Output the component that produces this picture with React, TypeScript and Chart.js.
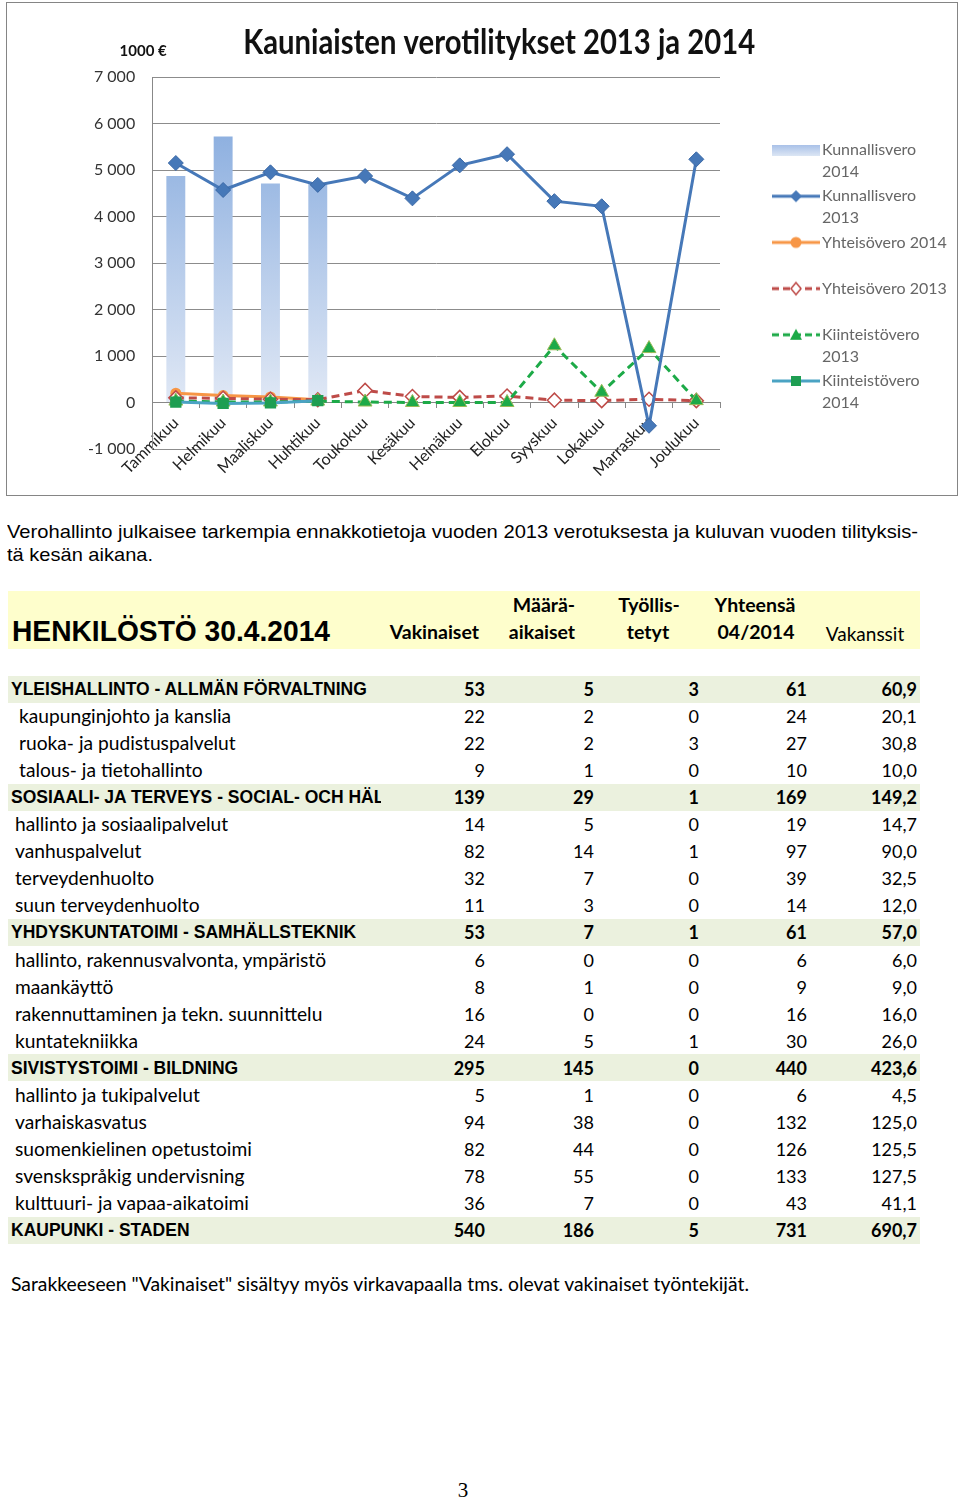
import React, { useEffect, useLayoutEffect, useRef } from 'react';
import { Chart, registerables } from 'chart.js';

Chart.register(...registerables);

// ---------------- Chart data ----------------
const months = ['Tammikuu', 'Helmikuu', 'Maaliskuu', 'Huhtikuu', 'Toukokuu', 'Kesäkuu', 'Heinäkuu', 'Elokuu', 'Syyskuu', 'Lokakuu', 'Marraskuu', 'Joulukuu'];
const kunnallisvero2014 = [4870, 5720, 4710, 4710, null, null, null, null, null, null, null, null];
const kunnallisvero2013 = [5150, 4570, 4950, 4680, 4870, 4390, 5100, 5340, 4330, 4220, -500, 5230];
const yhteisovero2014 = [200, 150, 120, 60, null, null, null, null, null, null, null, null];
const yhteisovero2013 = [100, 90, 70, 60, 260, 130, 110, 140, 50, 40, 70, 40];
const kiinteistovero2013 = [30, 10, 10, 30, 10, 0, 0, 0, 1220, 220, 1160, 40];
const kiinteistovero2014 = [10, -20, -10, 40, null, null, null, null, null, null, null, null];
const yMin = -1000;
const yMax = 7000;
const yStep = 1000;
const legendTexts = [
  ['Kunnallisvero', '2014'],
  ['Kunnallisvero', '2013'],
  ['Yhteisövero 2014', ''],
  ['Yhteisövero 2013', ''],
  ['Kiinteistövero', '2013'],
  ['Kiinteistövero', '2014'],
];

// ---------------- Table data ----------------
const rowNames = [
  'YLEISHALLINTO - ALLMÄN FÖRVALTNING',
  'kaupunginjohto ja kanslia',
  'ruoka- ja pudistuspalvelut',
  'talous- ja tietohallinto',
  'SOSIAALI- JA TERVEYS - SOCIAL- OCH HÄL',
  'hallinto ja sosiaalipalvelut',
  'vanhuspalvelut',
  'terveydenhuolto',
  'suun terveydenhuolto',
  'YHDYSKUNTATOIMI - SAMHÄLLSTEKNIK',
  'hallinto, rakennusvalvonta, ympäristö',
  'maankäyttö',
  'rakennuttaminen ja tekn. suunnittelu',
  'kuntatekniikka',
  'SIVISTYSTOIMI - BILDNING',
  'hallinto ja tukipalvelut',
  'varhaiskasvatus',
  'suomenkielinen opetustoimi',
  'svenskspråkig undervisning',
  'kulttuuri- ja vapaa-aikatoimi',
  'KAUPUNKI - STADEN',
];
const categoryRows = [0, 4, 9, 14, 20];
const vakinaiset = [53, 22, 22, 9, 139, 14, 82, 32, 11, 53, 6, 8, 16, 24, 295, 5, 94, 82, 78, 36, 540];
const maaraaikaiset = [5, 2, 2, 1, 29, 5, 14, 7, 3, 7, 0, 1, 0, 5, 145, 1, 38, 44, 55, 7, 186];
const tyollistetyt = [3, 0, 3, 0, 1, 0, 1, 0, 0, 1, 0, 0, 0, 1, 0, 0, 0, 0, 0, 0, 5];
const yhteensa = [61, 24, 27, 10, 169, 19, 97, 39, 14, 61, 6, 9, 16, 30, 440, 6, 132, 126, 133, 43, 731];
const vakanssit = ['60,9', '20,1', '30,8', '10,0', '149,2', '14,7', '90,0', '32,5', '12,0', '57,0', '6,0', '9,0', '16,0', '26,0', '423,6', '4,5', '125,0', '125,5', '127,5', '41,1', '690,7'];

const C_KUN13 = '#4678B8';
const C_YHT14 = '#F79646';
const C_YHT13 = '#BE4B48';
const C_KII13 = '#1DAA48';
const C_KII14 = '#4BA3C3';
const C_SQUARE = '#1E9E52';

const LEGEND_FONT = { family: 'Lato', size: 16, lineHeight: 1.35 };
const LEGEND_PAD = 3;
const LEGEND_BOX = 91;

function fmt(v: number) {
  const s = Math.abs(v).toString().replace(/\B(?=(\d{3})+(?!\d))/g, ' ');
  return (v < 0 ? '-' : '') + s;
}

function makeIcon(kind: string): HTMLCanvasElement {
  const W = 103, H = 22;
  const c = document.createElement('canvas');
  c.width = W; c.height = H;
  const g = c.getContext('2d')!;
  const x0 = 55, x1 = 103, cy = 11, cx = (x0 + x1) / 2;
  const line = (color: string, dash: number[]) => {
    g.save();
    g.strokeStyle = color; g.lineWidth = 3; g.setLineDash(dash);
    g.beginPath(); g.moveTo(x0, cy); g.lineTo(x1, cy); g.stroke();
    g.restore();
  };
  if (kind === 'bar') {
    const gr = g.createLinearGradient(0, cy - 5, 0, cy + 6);
    gr.addColorStop(0, '#A9C1E8'); gr.addColorStop(1, '#DCE6F4');
    g.fillStyle = gr; g.fillRect(x0, cy - 5, x1 - x0, 11);
  } else if (kind === 'kun13') {
    line(C_KUN13, []);
    g.fillStyle = C_KUN13; g.beginPath();
    g.moveTo(cx, cy - 6); g.lineTo(cx + 6, cy); g.lineTo(cx, cy + 6); g.lineTo(cx - 6, cy); g.closePath(); g.fill();
  } else if (kind === 'yht14') {
    line(C_YHT14, []);
    g.fillStyle = C_YHT14; g.beginPath(); g.arc(cx, cy, 5.5, 0, Math.PI * 2); g.fill();
  } else if (kind === 'yht13') {
    line(C_YHT13, [7, 4]);
    g.fillStyle = '#fff'; g.strokeStyle = C_YHT13; g.lineWidth = 1.5; g.beginPath();
    g.moveTo(cx, cy - 6); g.lineTo(cx + 5, cy); g.lineTo(cx, cy + 6); g.lineTo(cx - 5, cy); g.closePath(); g.fill(); g.stroke();
  } else if (kind === 'kii13') {
    line(C_KII13, [7, 4]);
    g.fillStyle = C_KII13; g.beginPath();
    g.moveTo(cx, cy - 6); g.lineTo(cx + 6, cy + 5); g.lineTo(cx - 6, cy + 5); g.closePath(); g.fill();
  } else if (kind === 'kii14') {
    line(C_KII14, []);
    g.fillStyle = C_SQUARE; g.fillRect(cx - 5, cy - 5, 10, 10);
  }
  return c;
}

const headerPlugin = {
  id: 'headerTexts',
  afterDraw(chart: any) {
    const ctx = chart.ctx as CanvasRenderingContext2D;
    const area = chart.chartArea;
    ctx.save();
    ctx.fillStyle = '#111';
    ctx.textBaseline = 'alphabetic';
    ctx.textAlign = 'center';
    ctx.font = 'bold 34px Lato, sans-serif';
    const title = 'Kauniaisten verotilitykset 2013 ja 2014';
    const w = ctx.measureText(title).width;
    const sx = 512 / w;
    ctx.translate(area.left + 347, 51);
    ctx.scale(sx, 1);
    ctx.fillText(title, 0, 0);
    ctx.restore();
    ctx.save();
    ctx.fillStyle = '#111';
    ctx.textAlign = 'center';
    ctx.textBaseline = 'alphabetic';
    ctx.font = 'bold 15px Lato, sans-serif';
    ctx.fillText('1000 €', area.left - 9, 53);
    ctx.restore();
  },
};

function ChartBlock() {
  const ref = useRef<HTMLCanvasElement>(null);
  useEffect(() => {
    const canvas = ref.current!;
    const icons = ['bar', 'kun13', 'yht14', 'yht13', 'kii13', 'kii14'].map(makeIcon);
    // measure the widest legend text so the plot's right edge lands where the reference has it
    const m = document.createElement('canvas').getContext('2d')!;
    m.font = `normal ${LEGEND_FONT.size}px ${LEGEND_FONT.family}`;
    let tw = 0;
    legendTexts.forEach((t) => t.forEach((s) => { tw = Math.max(tw, m.measureText(s).width); }));
    const legendWidth = LEGEND_PAD + LEGEND_BOX + LEGEND_FONT.size / 2 + tw + 10;
    const plotRight = 713;
    const padRight = 950 - plotRight - legendWidth;

    const barFill = (ctx: any) => {
      const chart = ctx.chart;
      const y = chart.scales && chart.scales.y;
      if (!chart.chartArea || !y) return '#B7CCEB';
      const g = chart.ctx.createLinearGradient(0, y.getPixelForValue(6000), 0, y.getPixelForValue(0));
      g.addColorStop(0, '#8BAEDF');
      g.addColorStop(1, '#E0E8F5');
      return g;
    };
    const chart = new Chart(canvas, {
      type: 'bar',
      data: {
        labels: months,
        datasets: [
          { type: 'bar', label: 'Kunnallisvero 2014', data: kunnallisvero2014, backgroundColor: barFill, borderWidth: 0, barPercentage: 0.4, categoryPercentage: 1, order: 10 } as any,
          { type: 'line', label: 'Kunnallisvero 2013', data: kunnallisvero2013, borderColor: C_KUN13, backgroundColor: C_KUN13, borderWidth: 3, pointStyle: 'rectRot', pointRadius: 7.5, pointBorderWidth: 1, pointBorderColor: '#3A68A6', tension: 0, order: 1 },
          { type: 'line', label: 'Yhteisövero 2014', data: yhteisovero2014, borderColor: C_YHT14, backgroundColor: C_YHT14, borderWidth: 3, pointStyle: 'circle', pointRadius: 5.5, pointBorderWidth: 0, tension: 0, order: 5 },
          { type: 'line', label: 'Yhteisövero 2013', data: yhteisovero2013, borderColor: C_YHT13, backgroundColor: '#ffffff', borderWidth: 3, borderDash: [8, 5], pointStyle: 'rectRot', pointRadius: 7, pointBorderWidth: 1.5, pointBorderColor: C_YHT13, pointBackgroundColor: '#ffffff', tension: 0, order: 4 },
          { type: 'line', label: 'Kiinteistövero 2013', data: kiinteistovero2013, borderColor: C_KII13, backgroundColor: C_KII13, borderWidth: 3, borderDash: [8, 5], pointStyle: 'triangle', pointRadius: 8, pointBorderWidth: 1, pointBorderColor: '#9BBB59', tension: 0, order: 3 },
          { type: 'line', label: 'Kiinteistövero 2014', data: kiinteistovero2014, borderColor: C_KII14, backgroundColor: C_SQUARE, borderWidth: 3, pointStyle: 'rect', pointRadius: 8, pointBorderWidth: 0, tension: 0, order: 2 },
        ],
      },
      options: {
        responsive: false,
        animation: false,
        devicePixelRatio: 1,
        layout: { padding: { left: 64, right: padRight, top: 74, bottom: 46 } },
        plugins: {
          title: { display: false },
          tooltip: { enabled: false },
          legend: {
            position: 'right',
            align: 'start',
            maxWidth: 400,
            title: { display: true, text: ' ', font: { size: 10, lineHeight: 1 }, padding: { top: 52, bottom: 0 } },
            labels: {
              usePointStyle: true,
              pointStyleWidth: LEGEND_BOX,
              padding: LEGEND_PAD,
              color: '#222',
              font: LEGEND_FONT,
              generateLabels: () =>
                legendTexts.map((t, i) => ({
                  text: t as any,
                  pointStyle: icons[i] as any,
                  fillStyle: 'rgba(0,0,0,0)',
                  strokeStyle: 'rgba(0,0,0,0)',
                  lineWidth: 0,
                  hidden: false,
                  datasetIndex: i,
                })),
            },
          },
        },
        scales: {
          x: {
            position: { y: 0 } as any,
            grid: { drawOnChartArea: false, drawTicks: true, tickLength: 5, color: '#888', offset: true },
            border: { display: true, color: '#888', width: 1 },
            ticks: { minRotation: 45, maxRotation: 45, autoSkip: false, color: '#222', padding: 6, font: { family: 'Lato', size: 16 } },
          },
          y: {
            min: yMin,
            max: yMax,
            grid: { color: '#8c8c8c', drawTicks: false },
            border: { display: true, color: '#888', width: 1 },
            ticks: { stepSize: yStep, color: '#333', padding: 17, font: { family: 'Lato', size: 16 }, callback: (v: any) => fmt(Number(v)) },
          },
        },
      },
      plugins: [headerPlugin],
    });
    return () => chart.destroy();
  }, []);
  return (
    <div style={{ position: 'absolute', left: 6, top: 2, width: 952, height: 494, border: '1px solid #858585', boxSizing: 'border-box' }}>
      <canvas ref={ref} width={950} height={492} style={{ display: 'block', width: 950, height: 492 }} />
    </div>
  );
}

function FitText({ text, width, style }: { text: string; width: number; style: React.CSSProperties }) {
  const ref = useRef<HTMLSpanElement>(null);
  useLayoutEffect(() => {
    const el = ref.current;
    if (!el) return;
    el.style.transform = 'none';
    const w = el.getBoundingClientRect().width;
    if (w > 0) el.style.transform = `scaleX(${width / w})`;
  }, [text, width]);
  return (
    <span ref={ref} style={{ display: 'inline-block', whiteSpace: 'pre', transformOrigin: '0 50%', ...style }}>
      {text}
    </span>
  );
}

const LH = 24;
function At({ x, cy, children, style }: { x: number; cy: number; children: React.ReactNode; style?: React.CSSProperties }) {
  return (
    <div style={{ position: 'absolute', left: x, top: cy - LH / 2, height: LH, lineHeight: LH + 'px', whiteSpace: 'pre', ...style }}>{children}</div>
  );
}
function AtRight({ right, cy, children, style }: { right: number; cy: number; children: React.ReactNode; style?: React.CSSProperties }) {
  return (
    <div style={{ position: 'absolute', left: right - 300, width: 300, textAlign: 'right', top: cy - LH / 2, height: LH, lineHeight: LH + 'px', whiteSpace: 'pre', ...style }}>{children}</div>
  );
}
function AtCenter({ cx, cy, children, style }: { cx: number; cy: number; children: React.ReactNode; style?: React.CSSProperties }) {
  return (
    <div style={{ position: 'absolute', left: cx - 100, width: 200, textAlign: 'center', top: cy - LH / 2, height: LH, lineHeight: LH + 'px', whiteSpace: 'pre', ...style }}>{children}</div>
  );
}

const arial = "'Liberation Sans', Arial, sans-serif";
const calibri = "Lato, 'Open Sans', sans-serif";

export default function App() {
  useEffect(() => {
    document.body.style.margin = '0';
  }, []);
  const rowTop = 689;
  const rowH = 27.05;
  const numCols = [485, 594, 699, 807, 917];
  const hdr: React.CSSProperties = { fontFamily: calibri, fontSize: 19.5, fontWeight: 'bold' };
  return (
    <div style={{ position: 'absolute', left: 0, top: 0, width: 960, height: 1501, background: '#fff', color: '#000', overflow: 'hidden' }}>
      <ChartBlock />

      <At x={7} cy={532}>
        <FitText text="Verohallinto julkaisee tarkempia ennakkotietoja vuoden 2013 verotuksesta ja kuluvan vuoden tilityksis-" width={911} style={{ fontFamily: arial, fontSize: 19 }} />
      </At>
      <At x={7} cy={555}>
        <FitText text="tä kesän aikana." width={146} style={{ fontFamily: arial, fontSize: 19 }} />
      </At>

      <div style={{ position: 'absolute', left: 8, top: 591, width: 912, height: 58, background: '#FEFECC' }} />
      <At x={12} cy={631}>
        <FitText text="HENKILÖSTÖ 30.4.2014" width={318} style={{ fontFamily: arial, fontSize: 30, fontWeight: 'bold' }} />
      </At>
      <AtRight right={479} cy={632} style={hdr}>Vakinaiset</AtRight>
      <AtCenter cx={544} cy={605} style={hdr}>Määrä-</AtCenter>
      <AtCenter cx={542} cy={632} style={hdr}>aikaiset</AtCenter>
      <AtCenter cx={649} cy={605} style={hdr}>Työllis-</AtCenter>
      <AtCenter cx={648} cy={632} style={hdr}>tetyt</AtCenter>
      <AtCenter cx={755} cy={605} style={hdr}>Yhteensä</AtCenter>
      <AtCenter cx={756} cy={632} style={hdr}>04/2014</AtCenter>
      <AtCenter cx={865} cy={634} style={{ fontFamily: calibri, fontSize: 19 }}>Vakanssit</AtCenter>

      {rowNames.map((name, i) => {
        const cy = rowTop + i * rowH;
        const isCat = categoryRows.includes(i);
        const numStyle: React.CSSProperties = { fontFamily: calibri, fontSize: 18, fontWeight: isCat ? 'bold' : 'normal' };
        const indent = isCat ? 11 : i < 4 ? 19 : 15;
        return (
          <React.Fragment key={i}>
            {isCat && <div style={{ position: 'absolute', left: 8, top: cy - 13.5, width: 912, height: 27, background: '#EBF1DE' }} />}
            <At x={indent} cy={cy} style={isCat ? { fontFamily: arial, fontSize: 17.5, fontWeight: 'bold', width: 370, overflow: 'hidden' } : { fontFamily: calibri, fontSize: 19.2 }}>
              {name}
            </At>
            <AtRight right={numCols[0]} cy={cy} style={numStyle}>{String(vakinaiset[i])}</AtRight>
            <AtRight right={numCols[1]} cy={cy} style={numStyle}>{String(maaraaikaiset[i])}</AtRight>
            <AtRight right={numCols[2]} cy={cy} style={numStyle}>{String(tyollistetyt[i])}</AtRight>
            <AtRight right={numCols[3]} cy={cy} style={numStyle}>{String(yhteensa[i])}</AtRight>
            <AtRight right={numCols[4]} cy={cy} style={numStyle}>{vakanssit[i]}</AtRight>
          </React.Fragment>
        );
      })}

      <At x={11} cy={1284}>
        <FitText text={'Sarakkeeseen "Vakinaiset" sisältyy myös virkavapaalla tms. olevat vakinaiset työntekijät.'} width={738} style={{ fontFamily: calibri, fontSize: 18.5 }} />
      </At>
      <AtCenter cx={463} cy={1490} style={{ fontFamily: "'Liberation Serif', 'Times New Roman', serif", fontSize: 21 }}>3</AtCenter>
    </div>
  );
}
